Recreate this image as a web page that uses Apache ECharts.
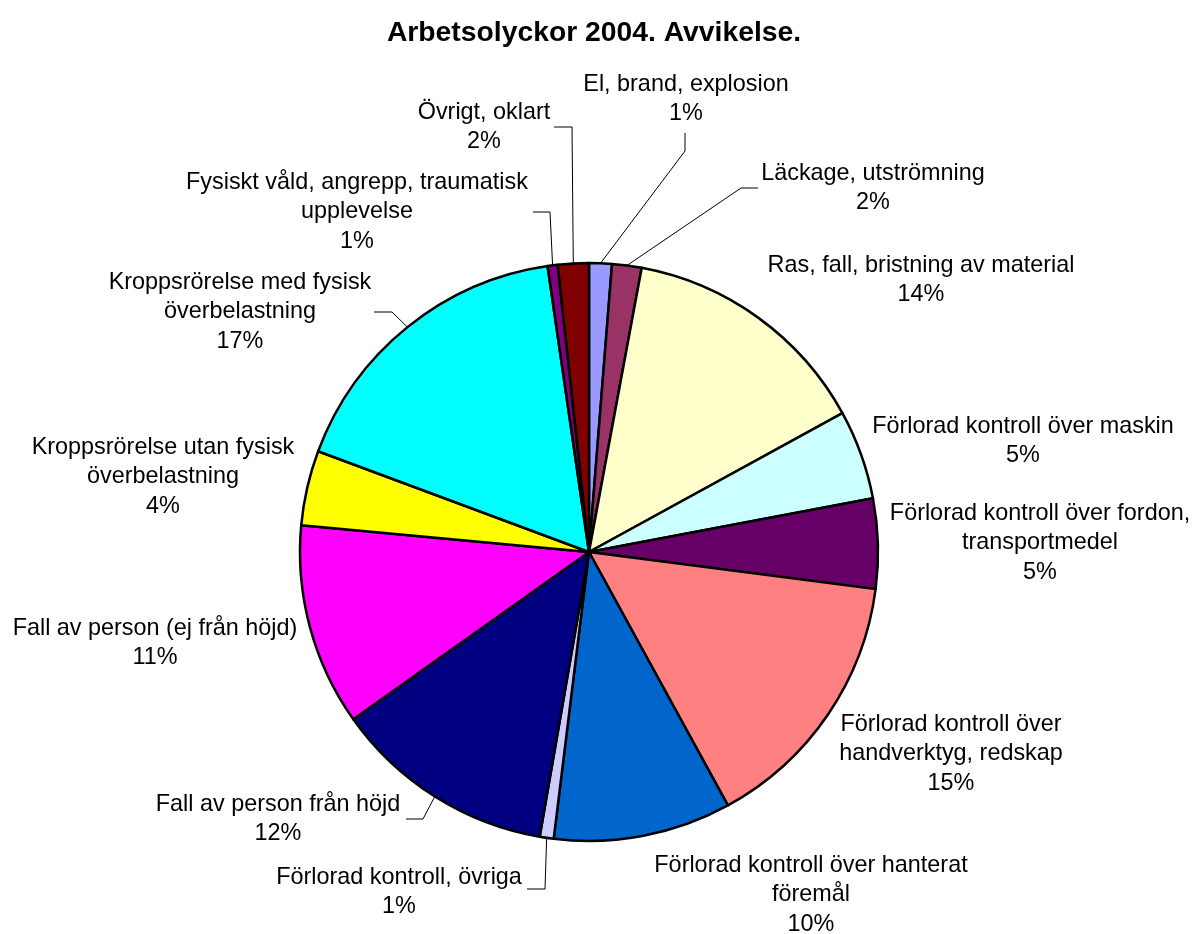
<!DOCTYPE html>
<html>
<head>
<meta charset="utf-8">
<script src="https://cdn.jsdelivr.net/npm/echarts@6/dist/echarts.min.js"></script>
<style>
html,body{margin:0;padding:0;background:#fff;}
#chart{width:1194px;height:934px;}
</style>
</head>
<body>
<div id="chart"></div>
<script>
// ---- data ----
const titleText = 'Arbetsolyckor 2004. Avvikelse.';
const categories = [
  'El, brand, explosion',
  'Läckage, utströmning',
  'Ras, fall, bristning av material',
  'Förlorad kontroll över maskin',
  'Förlorad kontroll över fordon,\ntransportmedel',
  'Förlorad kontroll över\nhandverktyg, redskap',
  'Förlorad kontroll över hanterat\nföremål',
  'Förlorad kontroll, övriga',
  'Fall av person från höjd',
  'Fall av person (ej från höjd)',
  'Kroppsrörelse utan fysisk\növerbelastning',
  'Kroppsrörelse med fysisk\növerbelastning',
  'Fysiskt våld, angrepp, traumatisk\nupplevelse',
  'Övrigt, oklart'
];
const values = [1.27, 1.65, 14.1, 5.0, 5.03, 14.97, 9.93, 0.78, 12.45, 11.3, 4.19, 17.04, 0.56, 1.73];

// ---- styles / layout (not data) ----
const colors = ['#9999FF','#993366','#FFFFCC','#CCFFFF','#660066','#FF8080','#0066CC',
                '#CCCCFF','#000080','#FF00FF','#FFFF00','#00FFFF','#800080','#800000'];
// label block centres
const labelPos = [
  [686, 99], [873, 188], [921, 280], [1023, 441], [1040, 543], [951, 754], [811, 895],
  [399, 892], [278, 819], [155, 643], [163, 477], [240, 312], [357, 212], [484, 127]
];
// leader line elbow and end (label side); null = no leader
const leaders = [
  [[685, 151], [685, 133]],
  [[741, 188], [758, 188]],
  null, null, null, null, null,
  [[545, 889], [527, 889]],
  [[423, 819], [406, 819]],
  null, null,
  [[392, 312], [374, 312]],
  [[550, 212], [533, 212]],
  [[572, 127], [554, 127]]
];

const chart = echarts.init(document.getElementById('chart'));
const option = {
  animation: false,
  backgroundColor: '#fff',
  title: {
    text: titleText,
    left: 589,
    textAlign: 'center',
    top: 14,
    textStyle: {fontFamily: 'Liberation Sans', fontSize: 28.3, fontWeight: 'bold', color: '#000'}
  },
  series: [{
    type: 'pie',
    center: [589, 552],
    radius: 289,
    startAngle: 90,
    clockwise: true,
    avoidLabelOverlap: false,
    emphasis: {disabled: true},
    data: categories.map((c, i) => ({
      name: c,
      value: values[i],
      itemStyle: {color: colors[i]},
      labelLine: {show: !!leaders[i]}
    })),
    itemStyle: {borderColor: '#000', borderWidth: 2.5},
    label: {
      show: true,
      position: 'outside',
      formatter: p => p.name + '\n' + Math.round(p.percent) + '%',
      fontFamily: 'Liberation Sans',
      fontSize: 23.4,
      lineHeight: 29.5,
      color: '#000',
      align: 'center'
    },
    labelLine: {show: true, lineStyle: {color: '#000', width: 1}},
    labelLayout: function (params) {
      const i = params.dataIndex;
      const r = {x: labelPos[i][0], y: labelPos[i][1], align: 'center', verticalAlign: 'middle'};
      if (leaders[i] && params.labelLinePoints) {
        const e = params.labelLinePoints[0];
        r.labelLinePoints = [[e[0], e[1]], leaders[i][0], leaders[i][1]];
      }
      return r;
    }
  }]
};
chart.setOption(option);
</script>
</body>
</html>
